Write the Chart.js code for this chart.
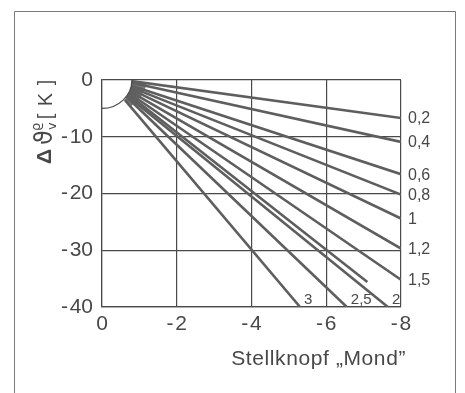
<!DOCTYPE html>
<html lang="de">
<head>
    <meta charset="UTF-8">
    <title>Stellknopf Mond</title>
    <script src="https://cdn.jsdelivr.net/npm/chart.js"></script>
    <style>
        body { margin: 0; background: #fff; }
        #wrap { position: relative; width: 465px; height: 393px; }
    </style>
</head>
<body>
    <div id="wrap">
        <canvas id="mondChart" width="465" height="393"></canvas>
    </div>

    <script>
        // Kennlinien (Steilheit) - Anfang am Bogen, Ende am Rand
        const lineLabels = ['0,2', '0,4', '0,6', '0,8', '1', '1,2', '1,5', '', '2', '2,5', '3'];
        const startX = [-0.80, -0.80, -0.79, -0.78, -0.76, -0.75, -0.72, -0.70, -0.68, -0.66, -0.61];
        const startY = [-0.2, -0.5, -1.0, -1.3, -1.6, -2.0, -2.3, -2.5, -2.8, -3.0, -3.5];
        const endX = [-8, -8, -8, -8, -8, -8, -8, -7.1, -7.65, -6.55, -5.3];
        const endY = [-6.7, -10.9, -16.6, -20.2, -24.4, -29.7, -35.2, -35.6, -40, -40, -40];

        const xTicks = [0, -2, -4, -6, -8];
        const yTicks = [0, -10, -20, -30, -40];
        const arcX = -0.8;   // Bogen um den Nullpunkt
        const arcY = -5;

        const ink = '#484848';
        const font = '"Liberation Sans", Arial, sans-serif';

        const datasets = lineLabels.map((lbl, i) => ({
            label: lbl,
            data: [{ x: startX[i], y: startY[i] }, { x: endX[i], y: endY[i] }],
            showLine: true,
            borderColor: '#5e5e5e',
            borderWidth: 2.6,
            pointRadius: 0
        }));

        function tickText(v) {
            return v < 0 ? '-\u200A' + Math.abs(v) : String(v);
        }

        // Rahmen, Bogen, Beschriftungen
        const decor = {
            id: 'decor',
            beforeDraw(chart) {
                const ctx = chart.ctx;
                ctx.save();
                ctx.fillStyle = '#fff';
                ctx.fillRect(0, 0, chart.width, chart.height);
                ctx.strokeStyle = '#7a7a7a';
                ctx.lineWidth = 1;
                ctx.beginPath();
                ctx.moveTo(14.5, 393);
                ctx.lineTo(14.5, 11.5);
                ctx.lineTo(455.5, 11.5);
                ctx.lineTo(455.5, 393);
                ctx.stroke();
                ctx.restore();
            },
            afterDatasetsDraw(chart) {
                const ctx = chart.ctx;
                const xs = chart.scales.x, ys = chart.scales.y;
                const area = chart.chartArea;
                const ox = xs.getPixelForValue(0), oy = ys.getPixelForValue(0);
                ctx.save();

                // dunkler Faecher am Bogen
                const inner = [], outer = [];
                lineLabels.forEach((lbl, i) => {
                    const sx = xs.getPixelForValue(startX[i]), sy = ys.getPixelForValue(startY[i]);
                    const ex = xs.getPixelForValue(endX[i]), ey = ys.getPixelForValue(endY[i]);
                    const len = Math.hypot(ex - sx, ey - sy);
                    const d = 15 - i * 0.6;
                    inner.push([sx, sy]);
                    outer.push([sx + (ex - sx) / len * d, sy + (ey - sy) / len * d]);
                });
                ctx.fillStyle = 'rgba(95,95,95,0.85)';
                ctx.beginPath();
                inner.forEach((p, k) => k ? ctx.lineTo(p[0], p[1]) : ctx.moveTo(p[0], p[1]));
                outer.reverse().forEach(p => ctx.lineTo(p[0], p[1]));
                ctx.closePath();
                ctx.fill();

                // Viertelkreis
                ctx.strokeStyle = ink;
                ctx.lineWidth = 1.2;
                ctx.beginPath();
                ctx.ellipse(ox, oy, xs.getPixelForValue(arcX) - ox, ys.getPixelForValue(arcY) - oy, 0, 0, Math.PI / 2);
                ctx.stroke();

                // Kurvenbeschriftung
                ctx.fillStyle = ink;
                lineLabels.forEach((lbl, i) => {
                    if (!lbl) return;
                    if (endY[i] > -40) {
                        ctx.font = '16px ' + font;
                        ctx.textAlign = 'left';
                        ctx.textBaseline = 'middle';
                        ctx.fillText(lbl, area.right + 7, ys.getPixelForValue(endY[i]) + 1);
                    } else {
                        ctx.font = '15px ' + font;
                        ctx.textAlign = 'left';
                        ctx.textBaseline = 'alphabetic';
                        ctx.fillText(lbl, xs.getPixelForValue(endX[i]) + 4, area.bottom - 3);
                    }
                });

                // Achsentitel x
                ctx.font = '21px ' + font;
                ctx.letterSpacing = '0.6px';
                ctx.textAlign = 'right';
                ctx.textBaseline = 'alphabetic';
                ctx.fillText('Stellknopf \u201EMond\u201D', area.right + 5, area.bottom + 58);
                ctx.letterSpacing = '0px';

                // Achsentitel y (gedreht)
                ctx.translate(52, 164);
                ctx.rotate(-Math.PI / 2);
                ctx.textAlign = 'left';
                let x = 0;
                ctx.font = 'bold 21px ' + font;
                ctx.fillText('\u0394', x, -1);
                x += ctx.measureText('\u0394').width + 4;
                ctx.font = '24px "DejaVu Sans", ' + font;
                ctx.fillText('\u03D1', x, 0);
                x += ctx.measureText('\u03D1').width;
                ctx.font = '13px "DejaVu Sans", ' + font;
                ctx.fillText('\u03F1', x - 1, -12);
                ctx.fillText('v', x, 4);
                x += ctx.measureText('v').width + 3;
                ctx.font = '20px ' + font;
                ctx.letterSpacing = '1px';
                ctx.fillText('[ K ]', x, 0);
                ctx.restore();
            }
        };

        new Chart(document.getElementById('mondChart'), {
            type: 'scatter',
            data: { datasets: datasets },
            options: {
                responsive: false,
                animation: false,
                devicePixelRatio: 1,
                layout: { padding: { left: 0, right: 64, top: 80, bottom: 0 } },
                plugins: {
                    legend: { display: false },
                    tooltip: { enabled: false }
                },
                scales: {
                    x: {
                        type: 'linear',
                        min: -8,
                        max: 0,
                        reverse: true,
                        afterFit: (s) => { s.height = 86; },
                        afterBuildTicks: (s) => { s.ticks = xTicks.map(v => ({ value: v })); },
                        ticks: {
                            color: ink,
                            font: { family: font, size: 21 },
                            padding: 5,
                            maxRotation: 0,
                            callback: tickText
                        },
                        grid: { color: '#4a4a4a', lineWidth: 1.2, drawTicks: false },
                        border: { color: '#4a4a4a', width: 1.2 }
                    },
                    y: {
                        type: 'linear',
                        min: -40,
                        max: 0,
                        afterFit: (s) => { s.width = 102; },
                        afterBuildTicks: (s) => { s.ticks = yTicks.map(v => ({ value: v })); },
                        ticks: {
                            color: ink,
                            font: { family: font, size: 21 },
                            padding: 9,
                            callback: tickText
                        },
                        grid: { color: '#4a4a4a', lineWidth: 1.2, drawTicks: false },
                        border: { color: '#4a4a4a', width: 1.2 }
                    }
                }
            },
            plugins: [decor]
        });
    </script>
</body>
</html>
